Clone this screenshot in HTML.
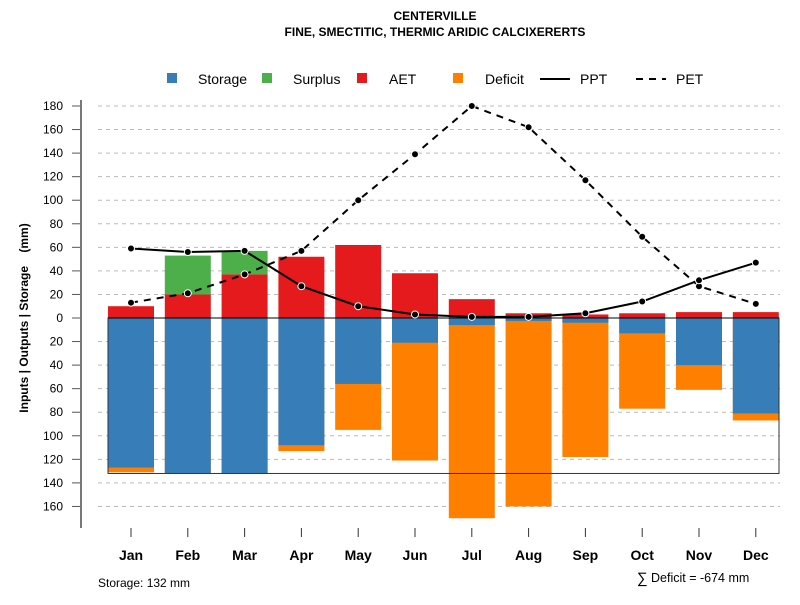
<!DOCTYPE html>
<html><head><meta charset="utf-8"><style>
body{margin:0;background:#fff;}
svg text{font-family:"Liberation Sans",sans-serif;}
</style></head><body>
<svg id="c" width="800" height="600" xmlns="http://www.w3.org/2000/svg">
<text x="435" y="20" text-anchor="middle" font-size="12" font-weight="bold">CENTERVILLE</text>
<text x="435" y="36" text-anchor="middle" font-size="12" font-weight="bold">FINE, SMECTITIC, THERMIC ARIDIC CALCIXERERTS</text>
<g>
<rect x="167" y="73" width="10" height="10" fill="#377eb8"/>
<text x="198" y="84" font-size="14">Storage</text>
<rect x="262" y="73" width="10" height="10" fill="#4daf4a"/>
<text x="293" y="84" font-size="14">Surplus</text>
<rect x="357" y="73" width="10" height="10" fill="#e41a1c"/>
<text x="389" y="84" font-size="14">AET</text>
<rect x="453" y="73" width="10" height="10" fill="#ff7f00"/>
<text x="485" y="84" font-size="14">Deficit</text>
<line x1="540" y1="79" x2="570" y2="79" stroke="#000" stroke-width="2"/>
<text x="580" y="84" font-size="14">PPT</text>
<line x1="636" y1="79" x2="666" y2="79" stroke="#000" stroke-width="2" stroke-dasharray="7,6"/>
<text x="676" y="84" font-size="14">PET</text>
</g>
<g id="grid"></g><g id="bars"></g><g id="lines"></g><g id="axes"></g>
<text transform="translate(28,318) rotate(-90)" text-anchor="middle" font-size="12" font-weight="bold" style="white-space:pre">Inputs | Outputs | Storage    (mm)</text>
<text x="98" y="587" font-size="12">Storage: 132 mm</text>
<text x="637" y="583" font-size="15">∑</text>
<text x="651" y="582" font-size="12.5">Deficit = -674 mm</text>
</svg>
<script>
const months=["Jan","Feb","Mar","Apr","May","Jun","Jul","Aug","Sep","Oct","Nov","Dec"];
const storage=[127,132,132,108,56,21,6,2.5,4,13,40,81];
const deficitBottom=[131,132,132,113,95,121,170,160,118,77,61,87];
const aet=[10,20,37,52,62,38,16,4,3,4,5,5];
const surplus=[0,33,20,0,0,0,0,0,0,0,0,0];
const ppt=[59,56,57,27,10,3,1,1,4,14,32,47];
const pet=[13,21,37,57,100,139,180,162,117,69,27,12];
const yTicks=[180,160,140,120,100,80,60,40,20,0,20,40,60,80,100,120,140,160];
const yTickVals=[180,160,140,120,100,80,60,40,20,0,-20,-40,-60,-80,-100,-120,-140,-160];
const soilStorage=132;
const NS="http://www.w3.org/2000/svg";
function y(v){return 318-v*(212/180);}
function x(i){return 131+i*56.8;}
function mk(p,t,a){const e=document.createElementNS(NS,t);for(const k in a)e.setAttribute(k,a[k]);p.appendChild(e);return e;}
const G=document.getElementById('grid'),B=document.getElementById('bars'),L=document.getElementById('lines'),A=document.getElementById('axes');
yTickVals.forEach((v,i)=>{
 if(v!==0){const g=mk(G,'line',{x1:98,x2:780,y1:y(v),y2:y(v),stroke:'#bbb','stroke-dasharray':'4,4'});
 
 }
 const t=mk(A,'line',{x1:72,x2:81,y1:y(v),y2:y(v),stroke:'#555'});
 
 
 const l=mk(A,'text',{x:63,y:y(v)+4,'text-anchor':'end','font-size':12});l.textContent=yTicks[i];
 
 
});
const ax=mk(A,'line',{x1:81,x2:81,y1:100,y2:528,stroke:'#777','stroke-width':2});


const w=46;
months.forEach((m,i)=>{
 const cx=x(i);
 const r1=mk(B,'rect',{x:cx-w/2,y:y(0),width:w,height:y(-deficitBottom[i])-y(0),fill:'#ff7f00'});
 
 
 const r2=mk(B,'rect',{x:cx-w/2,y:y(0),width:w,height:y(-storage[i])-y(0),fill:'#377eb8'});
 
 
 const r3=mk(B,'rect',{x:cx-w/2,y:y(aet[i]),width:w,height:y(0)-y(aet[i]),fill:'#e41a1c'});
 
 
 if(surplus[i]>0){const r4=mk(B,'rect',{x:cx-w/2,y:y(aet[i]+surplus[i]),width:w,height:y(aet[i])-y(aet[i]+surplus[i]),fill:'#4daf4a'});
 
 }
 const tk=mk(A,'line',{x1:cx,x2:cx,y1:528,y2:537,stroke:'#333'});
 
 
 const tl=mk(A,'text',{x:cx,y:560,'text-anchor':'middle','font-size':14,'font-weight':'bold'});tl.textContent=m;
 
 
});
const box=mk(B,'rect',{x:108,y:y(0),width:671,height:y(-soilStorage)-y(0),fill:'none',stroke:'#333','stroke-width':1});


const zl=mk(B,'line',{x1:108,x2:779,y1:y(0),y2:y(0),stroke:'#000'});


function series(d,name,dash){
 const p=mk(L,'polyline',{points:d.map((v,i)=>x(i)+','+y(v)).join(' '),fill:'none',stroke:'#000','stroke-width':2,'stroke-dasharray':dash});
 
 
 d.forEach((v,i)=>{const c=mk(L,'circle',{cx:x(i),cy:y(v),r:3.5,fill:'#000',stroke:'#fff','stroke-width':1});
 
 });
}
series(pet,'pet','7,6');
series(ppt,'ppt','none');
</script>
</body></html>
